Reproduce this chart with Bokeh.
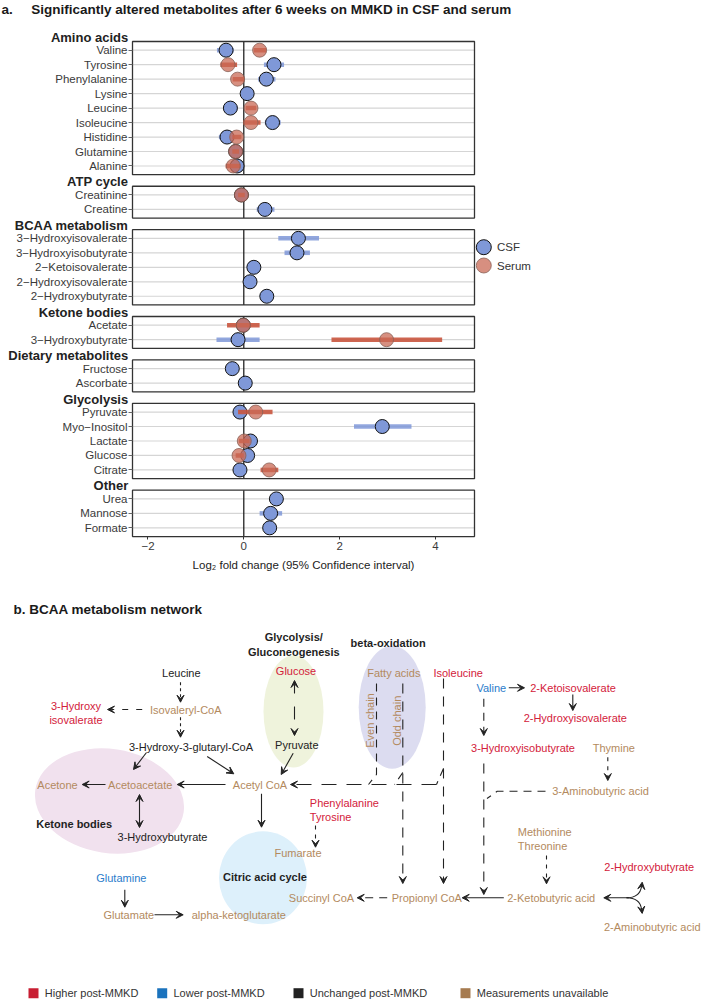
import numpy as np
from bokeh.plotting import figure
from bokeh.models import (Range1d, FixedTicker, ColumnDataSource, Arrow, VeeHead, LinearAxis)
from bokeh.embed import file_html
from bokeh.resources import INLINE
from bokeh.core.properties import value

FONT = "Liberation Sans"
NAN = float("nan")

# ------------------------------------------------------------------ data (panel a)
groups = ["Amino acids", "ATP cycle", "BCAA metabolism", "Ketone bodies",
          "Dietary metabolites", "Glycolysis", "Other"]
metabolites = [
    ["Valine", "Tyrosine", "Phenylalanine", "Lysine", "Leucine", "Isoleucine",
     "Histidine", "Glutamine", "Alanine"],
    ["Creatinine", "Creatine"],
    ["3\u2212Hydroxyisovalerate", "3\u2212Hydroxyisobutyrate", "2\u2212Ketoisovalerate",
     "2\u2212Hydroxyisovalerate", "2\u2212Hydroxybutyrate"],
    ["Acetate", "3\u2212Hydroxybutyrate"],
    ["Fructose", "Ascorbate"],
    ["Pyruvate", "Myo\u2212Inositol", "Lactate", "Glucose", "Citrate"],
    ["Urea", "Mannose", "Formate"],
]
csf_mean = [-0.37, 0.63, 0.47, 0.07, -0.28, 0.60, -0.35, -0.17, -0.14,
            -0.05, 0.44,
            1.14, 1.11, 0.21, 0.13, 0.48,
            -0.01, -0.12,
            -0.24, 0.03,
            -0.08, 2.89, 0.14, 0.08, -0.08,
            0.68, 0.56, 0.54]
csf_lo = [-0.56, 0.42, 0.30, -0.03, -0.43, 0.44, -0.52, -0.25, -0.28,
          -0.10, 0.27,
          0.72, 0.85, 0.14, 0.07, 0.35,
          -0.08, -0.57,
          -0.30, -0.03,
          -0.14, 2.30, 0.07, 0.02, -0.14,
          0.62, 0.33, 0.48]
csf_hi = [-0.21, 0.84, 0.66, 0.18, -0.13, 0.77, -0.20, -0.10, -0.02,
          0.00, 0.64,
          1.57, 1.38, 0.28, 0.19, 0.60,
          0.06, 0.33,
          -0.18, 0.09,
          -0.02, 3.50, 0.21, 0.14, -0.02,
          0.74, 0.80, 0.60]
serum_mean = [0.33, -0.33, -0.13, NAN, 0.15, 0.15, -0.15, -0.17, -0.22,
              -0.05, NAN,
              NAN, NAN, NAN, NAN, NAN,
              -0.01, 2.98,
              NAN, NAN,
              0.25, NAN, 0.01, -0.10, 0.53,
              NAN, NAN, NAN]
serum_lo = [0.21, -0.49, -0.23, NAN, 0.04, -0.01, -0.24, -0.24, -0.38,
            -0.12, NAN,
            NAN, NAN, NAN, NAN, NAN,
            -0.35, 1.83,
            NAN, NAN,
            -0.12, NAN, -0.10, -0.17, 0.35,
            NAN, NAN, NAN]
serum_hi = [0.47, -0.14, 0.01, NAN, 0.26, 0.35, -0.05, -0.10, -0.07,
            0.02, NAN,
            NAN, NAN, NAN, NAN, NAN,
            0.33, 4.14,
            NAN, NAN,
            0.60, NAN, 0.12, 0.00, 0.72,
            NAN, NAN, NAN]
x_ticks = [-2, 0, 2, 4]
series_names = ["CSF", "Serum"]

# ------------------------------------------------------------------ data (panel b)
net_nodes = ["Leucine", "Glucose", "Fatty acids", "Isoleucine", "Valine",
             "2-Ketoisovalerate", "3-Hydroxy\nisovalerate", "Isovaleryl-CoA",
             "2-Hydroxyisovalerate", "3-Hydroxy-3-glutaryl-CoA", "Pyruvate",
             "3-Hydroxyisobutyrate", "Thymine", "Acetone", "Acetoacetate",
             "Acetyl CoA", "3-Aminobutyric acid", "Phenylalanine\nTyrosine",
             "3-Hydroxybutyrate", "Methionine\nThreonine", "Fumarate",
             "2-Hydroxybutyrate", "Glutamine", "Succinyl CoA", "Propionyl CoA",
             "2-Ketobutyric acid", "Glutamate", "alpha-ketoglutarate",
             "2-Aminobutyric acid"]
net_status = ["unchanged", "higher", "unavailable", "higher", "lower",
              "higher", "higher", "unavailable",
              "higher", "unchanged", "unchanged",
              "higher", "unavailable", "unavailable", "unavailable",
              "unavailable", "unavailable", "higher",
              "unchanged", "unavailable", "unavailable",
              "higher", "lower", "unavailable", "unavailable",
              "unavailable", "unavailable", "unavailable",
              "unavailable"]
chain_labels = ["Even chain", "Odd chain"]
pathway_labels = ["Glycolysis/\nGluconeogenesis", "beta-oxidation",
                  "Ketone bodies", "Citric acid cycle"]
status_keys = ["higher", "lower", "unchanged", "unavailable"]
status_names = ["Higher post-MMKD", "Lower post-MMKD", "Unchanged post-MMKD",
                "Measurements unavailable"]

# ------------------------------------------------------------------ styles
TEXT_COL = {"higher": "#d3213b", "lower": "#2a7ccb", "unchanged": "#222222",
            "unavailable": "#b38a5e"}
SQUARE_COL = {"higher": "#c81e32", "lower": "#1b73bd", "unchanged": "#222222",
              "unavailable": "#a67b50"}
CSF_COL = "#7f98d8"
SER_COL = "#c9553e"
LC = "#222222"

# ------------------------------------------------------------------ page geometry
W, H = 702, 1000
PX0, PY0 = 0, 0
PANEL_L, PANEL_R = 132.0, 474.0
ZERO_PX = 243.3
PX_PER_X = 47.91
ROW0_PY = 49.7
ROWPX = 14.474
PAD = 0.6

row_y, firsts, lasts, names = [], [], [], []
y = 0
for k, mets in enumerate(metabolites):
    if k > 0:
        y += 1
    firsts.append(y)
    for m in mets:
        row_y.append(y)
        names.append(m)
        y += 1
    lasts.append(y - 1)


def fc_at(px):
    return (px - ZERO_PX) / PX_PER_X


def row_at(py):
    return (py - ROW0_PY) / ROWPX


def py_of_row(r):
    return ROW0_PY + r * ROWPX


X0, X1 = fc_at(PANEL_L), fc_at(PANEL_R)

p = figure(width=W, height=H, x_range=Range1d(PX0, PX0 + W), y_range=Range1d(PY0 + H, PY0),
           output_backend="svg", toolbar_location=None, min_border=0,
           x_axis_location=None, y_axis_location=None)
p.extra_x_ranges = {"fc": Range1d(fc_at(PX0), fc_at(PX0 + W))}
p.extra_y_ranges = {"rows": Range1d(row_at(PY0 + H), row_at(PY0))}
p.outline_line_color = None
p.grid.visible = False

kw = dict(x_range_name="fc", y_range_name="rows")

tops = [f - PAD for f in firsts]
bottoms = [l + PAD for l in lasts]
n = len(row_y)
p.segment(x0=[X0] * n, y0=row_y, x1=[X1] * n, y1=row_y, line_color="#d5d5d5",
          line_width=1.2, **kw)
p.segment(x0=[0] * len(tops), y0=tops, x1=[0] * len(tops), y1=bottoms,
          line_color="#111111", line_width=1.2, **kw)

src = ColumnDataSource(dict(y=row_y, cm=csf_mean, cl=csf_lo, ch=csf_hi,
                            sm=serum_mean, sl=serum_lo, sh=serum_hi))
p.segment(x0="cl", y0="y", x1="ch", y1="y", source=src, line_color=CSF_COL,
          line_alpha=0.85, line_width=4.5, **kw)
p.scatter(x="cm", y="y", source=src, size=14, fill_color=CSF_COL,
          line_color="#111111", line_width=1, **kw)
p.segment(x0="sl", y0="y", x1="sh", y1="y", source=src, line_color=SER_COL,
          line_alpha=0.9, line_width=4.5, **kw)
p.scatter(x="sm", y="y", source=src, size=14, fill_color="#c96a55",
          fill_alpha=0.75, line_color="#8a6258", line_alpha=0.8, line_width=1, **kw)

p.quad(left=[X0] * len(tops), right=[X1] * len(tops), top=tops, bottom=bottoms,
       fill_color=None, line_color="#333333", line_width=1.3, **kw)

# axes (fixed inside the canvas)
yax = LinearAxis(y_range_name="rows", fixed_location=PANEL_L,
                 ticker=FixedTicker(ticks=row_y))
yax.major_label_overrides = {int(v): nm for v, nm in zip(row_y, names)}
yax.axis_line_color = None
yax.major_tick_out = 4
yax.major_tick_in = 0
yax.major_tick_line_color = "#666666"
yax.minor_tick_line_color = None
yax.major_label_standoff = 1
yax.major_label_text_font = FONT
yax.major_label_text_font_size = "11.5px"
yax.major_label_text_color = "#3a3a3a"
p.add_layout(yax, "left")

xax = LinearAxis(x_range_name="fc", fixed_location=py_of_row(lasts[-1] + PAD),
                 ticker=FixedTicker(ticks=x_ticks))
xax.major_label_overrides = {t: (("\u2212" + str(-t)) if t < 0 else str(t)) for t in x_ticks}
xax.axis_line_color = None
xax.major_tick_out = 3
xax.major_tick_in = 0
xax.major_tick_line_color = "#333333"
xax.minor_tick_line_color = None
xax.major_label_standoff = 2
xax.major_label_text_font = FONT
xax.major_label_text_font_size = "11.5px"
xax.major_label_text_color = "#3a3a3a"
p.add_layout(xax, "below")

# group titles
p.text(x=[PANEL_L - 4.3] * len(groups), y=[f - PAD - 0.3 for f in firsts], text=groups,
       y_range_name="rows", text_align="right", text_baseline="middle",
       text_font=value(FONT), text_font_size="13px", text_font_style="bold",
       text_color="#222222")

# titles
p.text(x=[1.0, 30.7], y=[9.0, 9.0],
       text=["a.", "Significantly altered metabolites after 6 weeks on MMKD in CSF and serum"],
       text_align="left", text_baseline="middle", text_font=value(FONT),
       text_font_size="13.5px", text_font_style="bold", text_color="#1a1a1a")
p.text(x=[(PANEL_L + PANEL_R) / 2], y=[564.0],
       text=["Log\u2082 fold change (95% Confidence interval)"],
       text_align="center", text_baseline="middle", text_font=value(FONT),
       text_font_size="11.5px", text_color="#222222")

# legend (CSF / Serum)
p.scatter(x=[483.3], y=[246.7], size=15, fill_color=CSF_COL, line_color="#111111")
p.scatter(x=[483.3], y=[265.0], size=15, fill_color="#c96a55", fill_alpha=0.75,
          line_color="#8a6258", line_alpha=0.8)
p.text(x=[496.5] * 2, y=[246.7, 265.0], text=series_names, text_font=value(FONT),
       text_font_size="11.5px", text_color="#333333", text_baseline="middle",
       text_align="left")

# ------------------------------------------------------------------ panel b
ell_x = [293.0, 391.7, 109.0, 262.5]
ell_y = [711.0, 706.7, 800.5, 877.3]
ell_w = [60.0, 67.0, 150.0, 88.0]
ell_h = [112.0, 123.0, 104.0, 93.0]
ell_a = [0.0, 0.0, -0.15, 0.0]
ell_c = ["#eff3dc", "#dcdcf0", "#f1e1ee", "#ddf0fb"]
p.ellipse(x=ell_x, y=ell_y, width=ell_w, height=ell_h, angle=ell_a, fill_color=ell_c,
          line_color=None)


def arrow(x0, y0, x1, y1, dash="solid", both=False, size=7):
    end = VeeHead(size=size, fill_color=LC, line_color=LC, line_width=1)
    start = VeeHead(size=size, fill_color=LC, line_color=LC, line_width=1) if both else None
    p.add_layout(Arrow(start=start, end=end, x_start=x0, y_start=y0, x_end=x1, y_end=y1,
                       line_color=LC, line_width=1.1, line_dash=dash))


# solid arrows
arrow(292.7, 752.7, 280.7, 774.0)
arrow(146.0, 752.0, 133.0, 769.0)
arrow(206.7, 756.0, 233.3, 773.3)
arrow(105.0, 784.0, 81.7, 784.0)
arrow(225.0, 784.0, 176.7, 784.0)
arrow(139.0, 794.0, 139.0, 827.0, both=True)
arrow(261.0, 793.3, 261.0, 826.7)
arrow(124.3, 889.3, 124.3, 906.7)
arrow(154.0, 914.3, 182.7, 914.3)
arrow(508.3, 687.3, 524.0, 687.3)
arrow(572.3, 694.0, 572.3, 710.0)
arrow(503.3, 897.3, 461.7, 897.3)
arrow(628.3, 897.3, 603.3, 897.3)
# dashed arrows
arrow(180.0, 681.7, 180.0, 701.7, dash="3 3")
arrow(141.7, 709.0, 107.0, 709.0, dash="6 8")
arrow(180.0, 716.7, 180.0, 736.7, dash="3 3")
arrow(294.0, 680.0, 294.0, 735.0, dash="13 13", both=True)
arrow(483.3, 698.3, 483.3, 735.0, dash="8 6")
arrow(607.3, 756.7, 607.3, 780.0, dash="4 5")
arrow(315.0, 825.0, 315.0, 846.7, dash="4 5")
arrow(546.0, 855.0, 546.0, 883.3, dash="4 5")
arrow(386.7, 897.3, 356.7, 897.3, dash="8 6")
arrow(402.3, 683.0, 402.3, 883.0, dash="10 8")
arrow(443.0, 678.0, 443.0, 883.0, dash="10 8")
arrow(483.3, 763.0, 483.3, 894.0, dash="10 8")
arrow(436.0, 784.0, 290.0, 784.0, dash="15 10")

# dashed connector lines
p.multi_line(xs=[[376.0, 376.0, 368.0], [402.3, 394.0], [443.0, 436.0],
                 [545.0, 496.7, 486.5]],
             ys=[[683.0, 774.0, 784.0], [772.0, 784.0], [768.0, 784.0],
                 [790.7, 790.7, 798.0]],
             line_color=LC, line_width=1.1, line_dash="8 6")

# branch from 2-ketobutyric acid
p.bezier(x0=[626.0, 626.0], y0=[897.3, 897.3], x1=[641.0, 641.0], y1=[886.0, 908.6],
         cx0=[636.0, 636.0], cy0=[897.3, 897.3], cx1=[640.0, 640.0], cy1=[893.0, 901.6],
         line_color=LC, line_width=1.1)
arrow(641.0, 887.0, 641.7, 881.7)
arrow(641.0, 907.6, 641.7, 912.9)

node_pos = {
    "Leucine": (180.8, 672.0, "center"), "Glucose": (295.5, 670.0, "center"),
    "Fatty acids": (393.3, 672.3, "center"), "Isoleucine": (457.7, 672.3, "center"),
    "Valine": (490.8, 687.3, "center"), "2-Ketoisovalerate": (572.5, 687.3, "center"),
    "3-Hydroxy\nisovalerate": (75.5, 705.0, "center"),
    "Isovaleryl-CoA": (185.3, 709.0, "center"),
    "2-Hydroxyisovalerate": (574.8, 717.7, "center"),
    "3-Hydroxy-3-glutaryl-CoA": (190.5, 746.7, "center"),
    "Pyruvate": (296.3, 744.0, "center"),
    "3-Hydroxyisobutyrate": (522.5, 747.0, "center"),
    "Thymine": (613.3, 747.0, "center"), "Acetone": (57.0, 784.0, "center"),
    "Acetoacetate": (139.7, 784.0, "center"), "Acetyl CoA": (259.5, 784.0, "center"),
    "3-Aminobutyric acid": (600.0, 790.7, "center"),
    "Phenylalanine\nTyrosine": (309.3, 802.7, "left"),
    "3-Hydroxybutyrate": (162.0, 836.0, "center"),
    "Methionine\nThreonine": (517.3, 831.0, "left"),
    "Fumarate": (297.5, 852.7, "center"),
    "2-Hydroxybutyrate": (648.7, 866.7, "center"),
    "Glutamine": (120.8, 877.3, "center"), "Succinyl CoA": (321.0, 897.3, "center"),
    "Propionyl CoA": (426.3, 897.3, "center"),
    "2-Ketobutyric acid": (550.7, 897.3, "center"),
    "Glutamate": (128.3, 914.3, "center"),
    "alpha-ketoglutarate": (238.3, 914.3, "center"),
    "2-Aminobutyric acid": (651.7, 926.7, "center"),
}
LINE_H = 14.0
tx, ty, tt, tc, ta = [], [], [], [], []
for node, st in zip(net_nodes, net_status):
    x0, y0, al = node_pos[node]
    for i, line in enumerate(node.split("\n")):
        tx.append(x0)
        ty.append(y0 + i * LINE_H)
        tt.append(line)
        tc.append(TEXT_COL[st])
        ta.append(al)
p.text(x="x", y="y", text="t", source=ColumnDataSource(dict(x=tx, y=ty, t=tt, c=tc, a=ta)),
       text_color="c", text_align="a", text_baseline="middle", text_font=value(FONT),
       text_font_size="11px")

p.text(x=[369.3, 396.7], y=[720.0, 720.3], text=chain_labels, angle=[np.pi / 2] * 2,
       text_color=TEXT_COL["unavailable"], text_align="center", text_baseline="middle",
       text_font=value(FONT), text_font_size="11px")

path_pos = [(293.3, 636.7), (387.7, 642.3), (73.7, 823.0), (264.5, 876.7)]
bx, by, bt = [], [], []
for lab, (x0, y0) in zip(pathway_labels, path_pos):
    for i, line in enumerate(lab.split("\n")):
        bx.append(x0)
        by.append(y0 + i * 14.3)
        bt.append(line)
p.text(x=bx, y=by, text=bt, text_color="#1f1f1f", text_align="center",
       text_baseline="middle", text_font=value(FONT), text_font_size="11px",
       text_font_style="bold")

p.text(x=[13.0], y=[609.3], text=["b. BCAA metabolism network"], text_color="#1a1a1a",
       text_align="left", text_baseline="middle", text_font=value(FONT),
       text_font_size="13.5px", text_font_style="bold")

leg_x = [33.0, 161.7, 298.0, 465.0]
LEG_Y = 992.7
p.scatter(x=leg_x, y=[LEG_Y] * 4, marker="square", size=10,
          fill_color=[SQUARE_COL[k] for k in status_keys], line_color=None)
p.text(x=[v + 11.3 for v in leg_x], y=[LEG_Y] * 4, text=status_names, text_color="#333333",
       text_align="left", text_baseline="middle", text_font=value(FONT),
       text_font_size="11px")

open("out.html", "w").write(file_html(p, INLINE))
